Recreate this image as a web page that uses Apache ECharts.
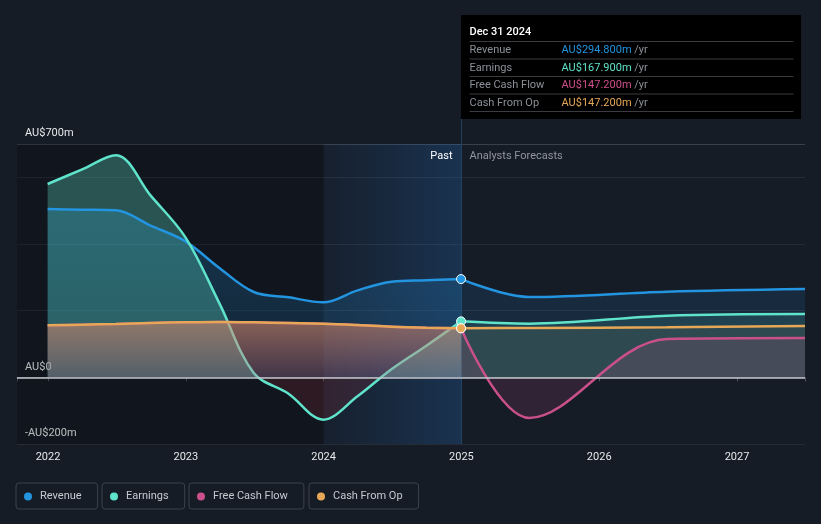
<!DOCTYPE html>
<html>
<head>
<meta charset="utf-8">
<script src="https://cdn.jsdelivr.net/npm/echarts@6/dist/echarts.min.js"></script>
<style>
html,body{margin:0;padding:0;background:#161c26;}
#c{width:821px;height:524px;}
</style>
</head>
<body>
<div id="c"></div>
<script>
// ---------- data ----------
const pastDates = ['2021-12-31','2022-03-31','2022-06-30','2022-09-30','2022-12-31','2023-03-31','2023-06-30','2023-09-30','2023-12-31','2024-03-31','2024-06-30','2024-09-30','2024-12-31'];
const forecastDates = ['2024-12-31','2025-06-30','2026-06-30','2027-06-30'];
const revenuePast  = [505, 503, 501, 455, 408, 328, 256, 240, 225, 261, 287, 291, 294.8];
const earningsPast = [580, 623, 666, 545, 420, 222, 13, -49, -127, -57, 25, 95, 167.9];
const fcfPast      = [156, 158, 160, 163, 165, 166, 165, 163, 161, 157, 152, 149, 147.2];
const cfoPast      = [156, 158, 160, 163, 165, 166, 165, 163, 161, 157, 152, 149, 147.2];
const revenueFc    = [294.8, 241, 257, 265];
const earningsFc   = [167.9, 161, 185, 190];
const fcfFc        = [147.2, -122, 115, 118];
const cfoFc        = [147.2, 148, 150, 154];
const xTickYears   = [2022, 2023, 2024, 2025, 2026, 2027];
const yLabelValues = [700, 0, -200];
const seriesNames  = ['Revenue', 'Earnings', 'Free Cash Flow', 'Cash From Op'];

// ---------- helpers ----------
function yearFrac(s){
  const p = s.split('-').map(Number);
  const y = p[0];
  const start = Date.UTC(y,0,1), end = Date.UTC(y+1,0,1);
  return y + (Date.UTC(y,p[1]-1,p[2]) - start) / (end - start);
}
const MONTHS = ['Jan','Feb','Mar','Apr','May','Jun','Jul','Aug','Sep','Oct','Nov','Dec'];
function fmtDate(s){ const p = s.split('-').map(Number); return MONTHS[p[1]-1] + ' ' + p[2] + ' ' + p[0]; }
function fmtY(v){ if (v === 0) return 'AU$0'; return (v < 0 ? '-' : '') + 'AU$' + Math.abs(v) + 'm'; }
function fmtVal(v){ return 'AU$' + v.toFixed(3) + 'm'; }

const yMin = -200, yMax = 700, yInterval = 200;
const xMin = 2021.775;
const xMax = yearFrac(forecastDates[forecastDates.length-1]);
const nowDate = pastDates[pastDates.length-1];
const nowX = yearFrac(nowDate);
const pastStart = yearFrac('2024-01-01');

const COL = {
  rev: '#2394df', earn: '#5fe3cb', fcf: '#c9508a', cfo: '#e6a856'
};
function rgba(hex, a){
  const n = parseInt(hex.slice(1),16);
  return 'rgba(' + (n>>16 & 255) + ',' + (n>>8 & 255) + ',' + (n & 255) + ',' + a + ')';
}
function vgrad(c0, c1){ return {type:'linear', x:0, y:0, x2:0, y2:1, colorStops:[{offset:0,color:c0},{offset:1,color:c1}]}; }

function pts(dates, vals){ return dates.map((d,i)=>[yearFrac(d), vals[i]]); }
function fcPts(dates, vals, color){
  return dates.map((d,i)=> i === 0
    ? {value:[yearFrac(d), vals[i]], symbol:'circle', symbolSize:9, itemStyle:{color:color, borderColor:'#ffffff', borderWidth:1}}
    : {value:[yearFrac(d), vals[i]], symbol:'none'});
}
function lineSeries(name, color, data, area, z){
  return {
    type:'line', name:name, data:data, smooth:0.35, symbol:'none', showSymbol:true,
    lineStyle:{color:color, width:2.5}, itemStyle:{color:color},
    areaStyle:{color:area, opacity:1}, z:z, silent:true, animation:false,
    emphasis:{disabled:true}
  };
}

function buildOption(geom){
  let earnPastArea = rgba(COL.earn, 0.3);
  if (geom){
    const fz = (geom.zero - geom.top) / (geom.bot - geom.top);
    earnPastArea = {type:'linear', x:0, y:geom.top, x2:0, y2:geom.bot, global:true, colorStops:[
      {offset:0, color:rgba(COL.earn,0.3)}, {offset:fz, color:rgba(COL.earn,0.3)},
      {offset:fz, color:'rgba(190,50,65,0.16)'}, {offset:1, color:'rgba(190,50,65,0.16)'}]};
  }
  const series = [
    {type:'line', name:'_bg', data:[], z:1, silent:true, animation:false,
      markArea:{silent:true, data:[
        [{xAxis:xMin, itemStyle:{color:'rgba(0,0,0,0.2)'}}, {xAxis:pastStart}],
        [{xAxis:pastStart, itemStyle:{color:{type:'linear',x:0,y:0,x2:1,y2:0,colorStops:[
          {offset:0,color:'rgba(35,110,190,0.05)'},{offset:1,color:'rgba(35,110,190,0.27)'}]}}}, {xAxis:nowX}]
      ]}},
    lineSeries('Revenue', COL.rev, pts(pastDates, revenuePast), vgrad(rgba(COL.rev,0.25), rgba(COL.rev,0.12)), 2),
    lineSeries('Revenue', COL.rev, fcPts(forecastDates, revenueFc, COL.rev), rgba(COL.rev,0.13), 2),
    lineSeries('Earnings', COL.earn, pts(pastDates, earningsPast), earnPastArea, 2),
    lineSeries('Earnings', COL.earn, fcPts(forecastDates, earningsFc, COL.earn), rgba(COL.earn,0.13), 2),
    lineSeries('Free Cash Flow', COL.fcf, pts(pastDates, fcfPast), vgrad(rgba(COL.fcf,0.32), rgba(COL.fcf,0.2)), 3),
    lineSeries('Free Cash Flow', COL.fcf, fcPts(forecastDates, fcfFc, COL.fcf), rgba(COL.fcf,0.15), 3),
    lineSeries('Cash From Op', COL.cfo, pts(pastDates, cfoPast), vgrad(rgba(COL.cfo,0.36), rgba(COL.cfo,0.05)), 3),
    lineSeries('Cash From Op', COL.cfo, fcPts(forecastDates, cfoFc, COL.cfo), rgba(COL.cfo,0.08), 3),
    {type:'line', name:'_fg', data:[], z:5, silent:true, animation:false,
      markLine:{silent:true, symbol:['none','none'], label:{show:false}, animation:false,
        lineStyle:{color:'#c4c7cc', width:1.5, type:'solid'}, data:[{yAxis:0}]}}
  ];

  const legendLefts = [16, 102, 189, 309];
  const legends = seriesNames.map((n,i)=>({
    data:[n], left:legendLefts[i], top:483, icon:'circle', itemWidth:14, itemHeight:8,
    padding:[8,16,7,8], borderColor:'#3b424d', borderWidth:1, borderRadius:3,
    textStyle:{color:'#c6cad0', fontSize:11, fontFamily:'Roboto'},
    itemStyle:{borderWidth:0}, selectedMode:false
  }));

  const graphic = [];
  if (geom){
    const bx = Math.round(geom.now) + 0.5, by = 15, bw = 340, bh = 104;
    graphic.push({type:'line', silent:true, z:1, shape:{x1:bx, y1:by+bh, x2:bx, y2:geom.bot}, style:{stroke:'#21415f', lineWidth:1}});
    graphic.push({type:'rect', silent:true, z:20, shape:{x:bx-0.5, y:by, width:bw, height:bh}, style:{fill:'#000000'}});
    graphic.push({type:'text', silent:true, z:21, x:bx+8, y:by+17, style:{text:fmtDate(nowDate), fill:'#ffffff', font:'500 11px Roboto', verticalAlign:'middle'}});
    [26, 43.5, 61, 78.5, 96].forEach(o=>{
      graphic.push({type:'line', silent:true, z:21, shape:{x1:bx+8, y1:by+o+0.5, x2:bx+332, y2:by+o+0.5}, style:{stroke:'#3a3c40', lineWidth:1}});
    });
    const rows = [
      ['Revenue', revenuePast[revenuePast.length-1], COL.rev],
      ['Earnings', earningsPast[earningsPast.length-1], COL.earn],
      ['Free Cash Flow', fcfPast[fcfPast.length-1], '#cf4f8d'],
      ['Cash From Op', cfoPast[cfoPast.length-1], COL.cfo]
    ];
    rows.forEach((r,i)=>{
      const ry = by + 35.5 + i*17.5;
      graphic.push({type:'text', silent:true, z:21, x:bx+8, y:ry, style:{text:r[0], fill:'#8b9098', font:'11px Roboto', verticalAlign:'middle'}});
      graphic.push({type:'text', silent:true, z:21, x:bx+100, y:ry, style:{
        text:'{v|' + fmtVal(r[1]) + '} {u|/yr}', verticalAlign:'middle', font:'11px Roboto',
        rich:{v:{fill:r[2], font:'11px Roboto'}, u:{fill:'#8b9098', font:'11px Roboto'}}}});
    });
    graphic.push({type:'text', silent:true, z:21, x:bx-9, y:geom.top+12, style:{text:'Past', fill:'#ffffff', font:'11px Roboto', align:'right', verticalAlign:'middle'}});
    graphic.push({type:'text', silent:true, z:21, x:bx+8, y:geom.top+12, style:{text:'Analysts Forecasts', fill:'#8f959d', font:'11px Roboto', align:'left', verticalAlign:'middle'}});
  }

  return {
    backgroundColor:'#161c26',
    animation:false,
    grid:{left:17, right:16, top:144, bottom:80, containLabel:false},
    legend:legends,
    xAxis:{
      type:'value', min:xMin, max:xMax,
      axisLine:{lineStyle:{color:'#50565f', width:1}},
      axisTick:{show:true, length:4, lineStyle:{color:'#50565f'}},
      splitLine:{show:false},
      axisLabel:{color:'#e6e8eb', fontSize:11, fontFamily:'Roboto', margin:8,
        formatter:v=>{ const r = Math.round(v); return (Math.abs(v-r) < 1e-6 && xTickYears.indexOf(r) >= 0) ? String(r) : ''; }}
    },
    yAxis:{
      type:'value', min:yMin, max:yMax, interval:yInterval,
      axisLine:{show:false}, axisTick:{show:false},
      splitLine:{show:true, lineStyle:{color:['#262c36','#262c36','#262c36','#262c36','#262c36','#3a4049'], width:1}},
      axisLabel:{inside:true, margin:8, color:'#e6e8eb', fontSize:11, fontFamily:'Roboto', verticalAlign:'bottom', padding:[0,0,5,0],
        formatter:v=> yLabelValues.indexOf(v) >= 0 ? fmtY(v) : ''}
    },
    series:series,
    graphic:graphic
  };
}

const chart = echarts.init(document.getElementById('c'), null, {renderer:'canvas'});
chart.setOption(buildOption(null), true);
const geom = {
  now: chart.convertToPixel({xAxisIndex:0}, nowX),
  top: chart.convertToPixel({yAxisIndex:0}, yMax),
  bot: chart.convertToPixel({yAxisIndex:0}, yMin),
  zero: chart.convertToPixel({yAxisIndex:0}, 0)
};
chart.setOption(buildOption(geom), true);
</script>
</body>
</html>
